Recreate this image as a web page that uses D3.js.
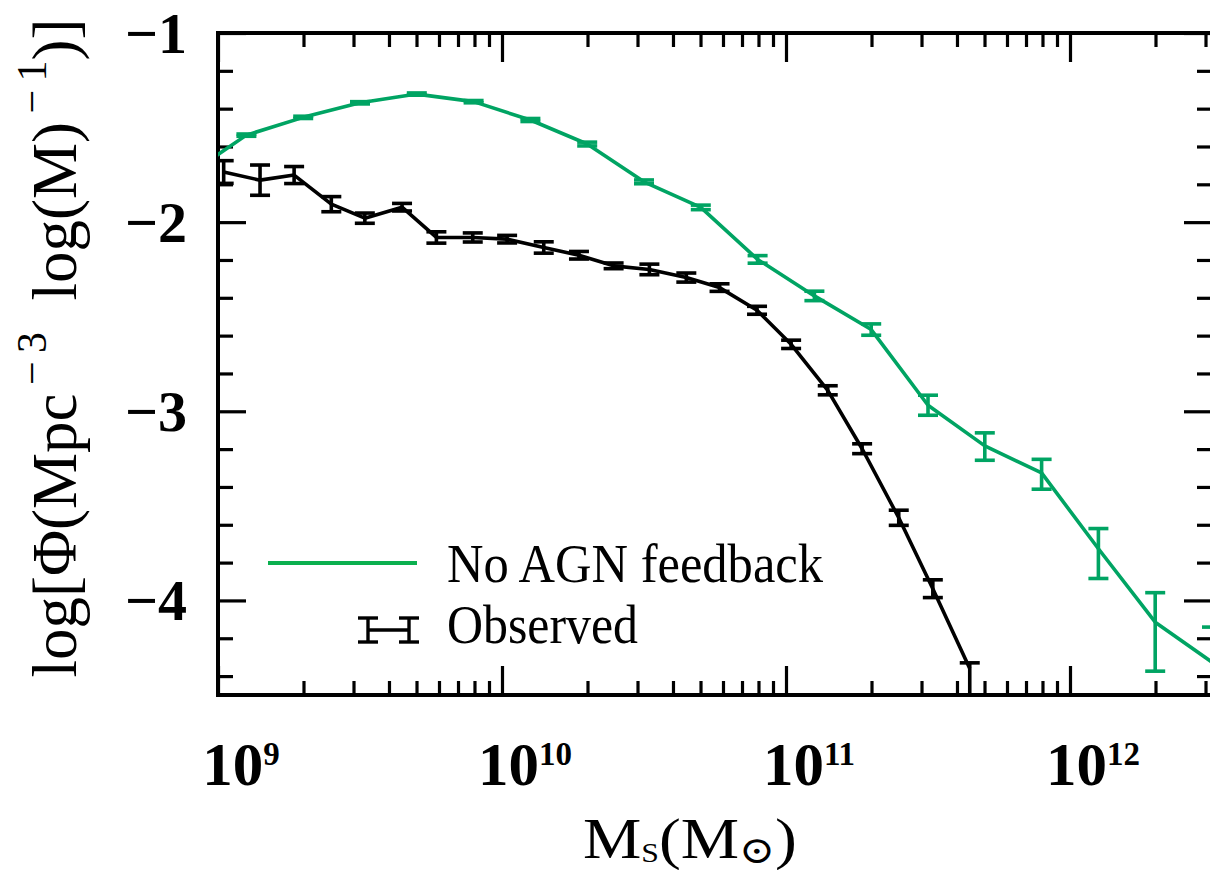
<!DOCTYPE html>
<html>
<head>
<meta charset="utf-8">
<script src="https://cdn.jsdelivr.net/npm/d3@7/dist/d3.min.js"></script>
<style>
  html, body { margin: 0; padding: 0; background: #fff; }
  svg { display: block; }
</style>
</head>
<body>
<script>
// Stellar mass function: model without AGN feedback vs. observed
const modelLogM = [8.9, 9.1, 9.3, 9.5, 9.7, 9.9, 10.1, 10.3, 10.5, 10.7, 10.9, 11.1, 11.3, 11.5, 11.7, 11.9, 12.1, 12.3, 12.5];
const modelPhi  = [-1.745, -1.540, -1.446, -1.369, -1.323, -1.363, -1.460, -1.587, -1.787, -1.922, -2.197, -2.390, -2.568, -2.968, -3.183, -3.326, -3.727, -4.115, -4.326];
const modelErrUp = [0.004, 0.006, 0.006, 0.006, 0.006, 0.006, 0.008, 0.010, 0.010, 0.012, 0.020, 0.025, 0.030, 0.053, 0.069, 0.072, 0.107, 0.156, 0.185];
const modelErrLo = [0.004, 0.006, 0.006, 0.006, 0.006, 0.006, 0.008, 0.010, 0.010, 0.012, 0.020, 0.025, 0.030, 0.053, 0.076, 0.086, 0.157, 0.259, 0.300];

const obsLogM = [9.02, 9.148, 9.268, 9.399, 9.517, 9.648, 9.769, 9.897, 10.018, 10.147, 10.271, 10.393, 10.519, 10.649, 10.766, 10.898, 11.018, 11.147, 11.268, 11.397, 11.517, 11.647];
const obsPhi  = [-1.735, -1.778, -1.751, -1.905, -1.979, -1.921, -2.081, -2.081, -2.090, -2.134, -2.175, -2.231, -2.250, -2.293, -2.346, -2.466, -2.646, -2.889, -3.198, -3.563, -3.938, -4.360];
const obsErrUp = [0.060, 0.080, 0.045, 0.040, 0.027, 0.020, 0.030, 0.024, 0.020, 0.030, 0.020, 0.015, 0.028, 0.024, 0.020, 0.021, 0.022, 0.024, 0.026, 0.040, 0.047, 0.030];
const obsErrLo = [0.060, 0.080, 0.045, 0.040, 0.027, 0.020, 0.030, 0.024, 0.020, 0.030, 0.020, 0.015, 0.028, 0.024, 0.020, 0.021, 0.022, 0.024, 0.026, 0.040, 0.047, 0.400];

const xMajorExp = [9, 10, 11, 12];
const yMajor = [-1, -2, -3, -4];
const legendLabels = ["No AGN feedback", "Observed"];

const W = 1210, H = 870;
const pLeft = 218, pRight = 1212, pTop = 33, pBottom = 695;
const green = "#00a463";
const greenLegend = "#0bb04f";
const serif = "'Liberation Serif', 'Times New Roman', 'DejaVu Serif', serif";

const svg = d3.select("body").append("svg").attr("width", W).attr("height", H);

const x = d3.scaleLog().domain([1e9, Math.pow(10, 12.5)]).range([pLeft, pRight]);
const y = d3.scaleLinear().domain([-4.5, -1]).range([pBottom, pTop]);

svg.append("defs").append("clipPath").attr("id", "plotClip")
  .append("rect").attr("x", pLeft).attr("y", pTop).attr("width", pRight - pLeft).attr("height", pBottom - pTop);

// ---- axes: ticks point inward on all four sides
const xMajor = xMajorExp.map(e => Math.pow(10, e));
const xMinor = [];
for (let e = 9; e <= 12; e++) for (let m = 2; m <= 9; m++) {
  const v = m * Math.pow(10, e);
  if (v <= Math.pow(10, 12.5)) xMinor.push(v);
}
const yMinor = d3.range(-4.4, -1.0001, 0.2).filter(v => Math.abs(v - Math.round(v)) > 1e-6);

function styleAxis(g) {
  g.select(".domain").remove();
  g.selectAll(".tick line").attr("stroke", "#000").attr("stroke-width", 3.2);
  g.selectAll(".tick text").remove();
}

svg.append("g").attr("transform", `translate(0,${pBottom})`)
  .call(d3.axisTop(x).tickValues(xMajor).tickSize(29).tickFormat("")).call(styleAxis);
svg.append("g").attr("transform", `translate(0,${pBottom})`)
  .call(d3.axisTop(x).tickValues(xMinor).tickSize(14).tickFormat("")).call(styleAxis);
svg.append("g").attr("transform", `translate(0,${pTop})`)
  .call(d3.axisBottom(x).tickValues(xMajor).tickSize(29).tickFormat("")).call(styleAxis);
svg.append("g").attr("transform", `translate(0,${pTop})`)
  .call(d3.axisBottom(x).tickValues(xMinor).tickSize(14).tickFormat("")).call(styleAxis);

svg.append("g").attr("transform", `translate(${pLeft},0)`)
  .call(d3.axisRight(y).tickValues(yMajor).tickSize(28).tickFormat("")).call(styleAxis);
svg.append("g").attr("transform", `translate(${pLeft},0)`)
  .call(d3.axisRight(y).tickValues(yMinor).tickSize(15).tickFormat("")).call(styleAxis);
svg.append("g").attr("transform", `translate(${pRight},0)`)
  .call(d3.axisLeft(y).tickValues(yMajor).tickSize(28).tickFormat("")).call(styleAxis);
svg.append("g").attr("transform", `translate(${pRight},0)`)
  .call(d3.axisLeft(y).tickValues(yMinor).tickSize(15).tickFormat("")).call(styleAxis);

// frame
svg.append("rect").attr("x", pLeft).attr("y", pTop).attr("width", pRight - pLeft).attr("height", pBottom - pTop)
  .attr("fill", "none").attr("stroke", "#000").attr("stroke-width", 4);

// ---- tick labels
xMajorExp.forEach(e => {
  const t = svg.append("text")
    .attr("x", x(Math.pow(10, e)) + 23).attr("y", 785)
    .attr("text-anchor", "middle")
    .attr("font-family", serif).attr("font-weight", "bold").attr("font-size", 61);
  t.append("tspan").text("10");
  t.append("tspan").attr("dy", -20).attr("font-size", 33).text(String(e));
});
yMajor.forEach(v => {
  svg.append("text")
    .attr("x", 187).attr("y", y(v) + 20)
    .attr("text-anchor", "end")
    .attr("font-family", serif).attr("font-weight", "bold").attr("font-size", 58)
    .text("\u2212" + Math.abs(v));
});

// ---- axis titles
const xt = svg.append("text").attr("x", 583).attr("y", 858)
  .attr("font-family", serif).attr("font-size", 58)
  .attr("textLength", 214).attr("lengthAdjust", "spacingAndGlyphs");
xt.append("tspan").text("M");
xt.append("tspan").attr("dy", 4).attr("font-size", 28).text("S");
xt.append("tspan").attr("dy", -4).attr("font-size", 58).text("(M");
xt.append("tspan").attr("dy", 5).attr("font-size", 38).text("\u2299");
xt.append("tspan").attr("dy", -5).attr("font-size", 58).text(")");

const yt = svg.append("text")
  .attr("transform", "translate(76,348) rotate(-90)")
  .attr("text-anchor", "middle")
  .attr("font-family", serif).attr("font-size", 63);
yt.append("tspan").text("log[\u03A6(Mpc");
yt.append("tspan").attr("dy", -30).attr("font-size", 42).text("\u2009\u2212\u20093");
yt.append("tspan").attr("dy", 30).attr("font-size", 63).text("\u2002log(M)");
yt.append("tspan").attr("dy", -30).attr("font-size", 42).text("\u2009\u2212\u20091");
yt.append("tspan").attr("dy", 30).attr("font-size", 63).text(")]");

// ---- data
const plot = svg.append("g").attr("clip-path", "url(#plotClip)");

function drawSeries(logM, phi, errUp, errLo, color, lw) {
  const pts = logM.map((m, i) => ({ m: Math.pow(10, m), v: phi[i], up: errUp[i], lo: errLo[i] }));
  plot.append("path").datum(pts)
    .attr("fill", "none").attr("stroke", color).attr("stroke-width", lw).attr("stroke-linejoin", "round")
    .attr("d", d3.line().x(d => x(d.m)).y(d => y(d.v)));
  const cap = 10;
  const eb = plot.append("g").attr("stroke", color).attr("stroke-width", lw);
  pts.forEach(d => {
    const cx = x(d.m), y1 = y(d.v + d.up), y2 = y(d.v - d.lo);
    eb.append("line").attr("x1", cx).attr("x2", cx).attr("y1", y1).attr("y2", y2);
    eb.append("line").attr("x1", cx - cap).attr("x2", cx + cap).attr("y1", y1).attr("y2", y1);
    eb.append("line").attr("x1", cx - cap).attr("x2", cx + cap).attr("y1", y2).attr("y2", y2);
  });
}
drawSeries(modelLogM, modelPhi, modelErrUp, modelErrLo, green, 3.6);
drawSeries(obsLogM, obsPhi, obsErrUp, obsErrLo, "#000", 3.6);

// ---- legend
svg.append("line").attr("x1", 268).attr("x2", 417).attr("y1", 563).attr("y2", 563)
  .attr("stroke", greenLegend).attr("stroke-width", 4);
svg.append("text").attr("x", 447).attr("y", 582)
  .attr("font-family", serif).attr("font-size", 55)
  .attr("textLength", 376).attr("lengthAdjust", "spacingAndGlyphs")
  .text(legendLabels[0]);

// horizontal error-bar symbol
const sym = svg.append("g").attr("stroke", "#000").attr("stroke-width", 3.4).attr("fill", "none");
sym.append("line").attr("x1", 368).attr("x2", 409).attr("y1", 630).attr("y2", 630);
[368, 409].forEach(cx => {
  sym.append("line").attr("x1", cx).attr("x2", cx).attr("y1", 618).attr("y2", 642);
  sym.append("line").attr("x1", cx - 10).attr("x2", cx + 10).attr("y1", 618).attr("y2", 618);
  sym.append("line").attr("x1", cx - 10).attr("x2", cx + 10).attr("y1", 642).attr("y2", 642);
});
svg.append("text").attr("x", 447).attr("y", 643)
  .attr("font-family", serif).attr("font-size", 55)
  .attr("textLength", 191).attr("lengthAdjust", "spacingAndGlyphs")
  .text(legendLabels[1]);
</script>
</body>
</html>
